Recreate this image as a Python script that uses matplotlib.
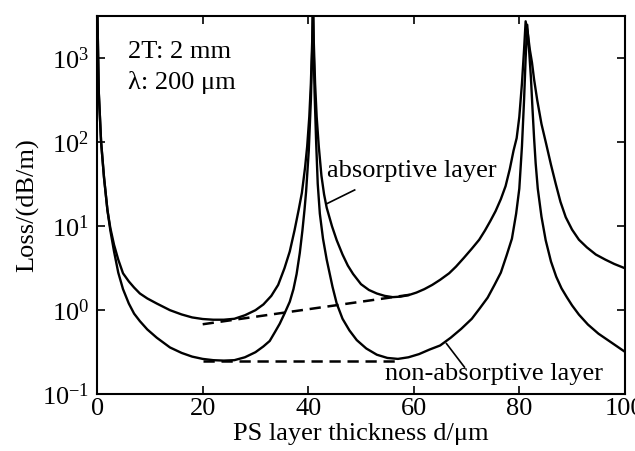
import matplotlib
matplotlib.use("Agg")
import matplotlib.pyplot as plt

plt.rcParams["font.family"] = ["Liberation Serif", "DejaVu Serif"]
plt.rcParams["mathtext.fontset"] = "custom"
plt.rcParams["mathtext.rm"] = "Liberation Serif"
plt.rcParams["axes.unicode_minus"] = False
plt.rcParams["font.size"] = 19

# absorptive layer (upper curve)
abs_x = [0, 0.3, 0.75, 1.3, 1.95, 2.5, 3.2, 4.0, 4.9, 6.0, 7.0, 8.1, 9.5, 11.3,
         13.8, 16, 18, 20, 22, 24, 26, 28, 30, 31.5, 33, 34.3, 35.5, 36.5, 37.4,
         38.2, 38.8, 39.4, 39.8, 40.2, 40.5, 40.75, 40.9,
         41.05, 41.3, 41.6, 42.0, 42.5, 43.0, 43.5, 44.5, 45.4, 46.5, 47.5, 48.5,
         50, 51.5, 53, 54.5, 56, 57.5, 59, 60.5, 62, 63.5, 65, 66.7, 68, 69.5,
         71, 72.4, 73.5, 74.5, 75.5, 76.5, 77.4, 78.2, 78.9, 79.5, 80.0, 80.5,
         80.9, 81.2, 81.6, 82.0, 82.4, 82.8, 83.4, 84.2, 85.1, 86.0, 86.9, 87.8,
         88.8, 90, 91.3, 92.8, 94.5, 96.3, 98, 100]
abs_y = [5000, 400, 100, 38, 15.5, 9.5, 6.0, 4.0, 2.75, 2.2, 1.86, 1.58, 1.38, 1.2,
         1.0, 0.89, 0.82, 0.785, 0.77, 0.77, 0.79, 0.87, 1.0, 1.17, 1.48, 2.0, 3.16, 5.0, 8.9,
         15.8, 25, 50, 89, 200, 500, 1580, 5000,
         1580, 500, 200, 89, 40, 24, 16.6, 10, 6.8, 4.6, 3.4, 2.7,
         2.04, 1.74, 1.58, 1.48, 1.43, 1.45, 1.51, 1.62, 1.78, 2.0, 2.3, 2.75, 3.3, 4.2,
         5.4, 6.9, 8.9, 11.5, 15.1, 21, 30, 48, 79, 112, 200, 500,
         1260, 2750, 2000, 1260, 890, 560, 316, 165, 95, 54, 32, 19.5,
         12.8, 9.1, 6.9, 5.6, 4.6, 4.0, 3.55, 3.16]

# non-absorptive layer (lower curve)
non_x = [0, 0.3, 0.75, 1.3, 1.95, 2.5, 3.2, 4.0, 4.9, 6.0, 7.0, 8.1, 9.5, 11.3,
         13.8, 16, 18, 20, 22, 24, 26, 28, 30, 31.5, 32.7, 33.7, 34.6, 35.5, 36.5,
         37.2, 37.8, 38.4, 38.9, 39.3, 39.6, 40.1, 40.5, 40.8, 40.9,
         41.0, 41.2, 41.5, 41.8, 42.2, 42.8, 43.5, 44.6, 45.4, 46.5, 47.8, 49.2,
         51, 53, 55, 57, 59, 61, 63, 65, 67, 69, 71, 72.5, 74, 75.3, 76.5, 77.6,
         78.6, 79.4, 80.0, 80.5, 80.9, 81.2, 81.5, 81.85, 82.2, 82.5, 82.8, 83.1,
         83.5, 84.2, 85, 86, 87, 88, 89, 90, 91.3, 93, 95, 97.5, 100]
non_y = [5000, 400, 100, 38, 15.5, 8.9, 5.0, 2.8, 1.78, 1.2, 0.91, 0.74, 0.59, 0.47,
         0.36, 0.31, 0.28, 0.263, 0.254, 0.251, 0.254, 0.275, 0.316, 0.37, 0.43, 0.55, 0.69, 0.91, 1.26,
         1.78, 2.7, 4.8, 8.9, 15.8, 26, 79, 316, 1580, 5000,
         1580, 400, 100, 32, 14.1, 7.1, 4.0, 1.9, 1.2, 0.79, 0.575, 0.44,
         0.35, 0.295, 0.27, 0.263, 0.275, 0.30, 0.34, 0.38, 0.47, 0.60, 0.79, 1.05, 1.41, 2.0, 2.8, 4.5,
         7.1, 14.1, 28, 89, 316, 1000, 2500, 1260, 590, 250, 112, 56,
         28, 13, 6.8, 3.8, 2.5, 1.82, 1.43, 1.14, 0.885, 0.675, 0.525, 0.41, 0.32]

# dashed guide lines through the minima
guide_abs_x = [20, 60]
guide_abs_y = [0.68, 1.55]
guide_non_x = [20, 56.5]
guide_non_y = [0.245, 0.245]

x_ticks = [0, 20, 40, 60, 80, 100]
y_ticks = [0.1, 1, 10, 100, 1000]

fig = plt.figure(figsize=(6.35, 4.51), dpi=100)
ax = fig.add_axes([0.153, 0.126, 0.831, 0.839])

ax.plot(abs_x, abs_y, color="black", lw=1.7)
ax.plot(non_x, non_y, color="black", lw=1.7)
ax.plot(guide_abs_x, guide_abs_y, color="black", lw=1.8, ls=(0, (4.5, 2.7)))
ax.plot(guide_non_x, guide_non_y, color="black", lw=1.8, ls=(0, (4.5, 2.7)))

ax.set_yscale("log")
ax.set_xlim(0, 100)
ax.set_ylim(0.1, 3200)
ax.set_xticks(x_ticks)
ax.set_yticks(y_ticks)
ax.minorticks_off()
ax.tick_params(direction="in", top=True, right=True, length=6, width=1.2)
ax.tick_params(axis="x", pad=3)
ax.tick_params(axis="y", pad=6)
for s in ax.spines.values():
    s.set_linewidth(1.5)

ax.set_xlabel("PS layer thickness d/μm", labelpad=2)
ax.set_ylabel("Loss/(dB/m)", labelpad=2)

ax.text(5.9, 1180, "2T: 2 mm", va="center", ha="left")
ax.text(5.9, 515, "λ: 200 μm", va="center", ha="left")

ax.text(43.6, 46, "absorptive layer", va="center", ha="left")
ax.plot([43.5, 48.8], [18.5, 27], color="black", lw=1.2)
ax.text(54.6, 0.173, "non-absorptive layer", va="center", ha="left")
ax.plot([66.2, 69.6], [0.40, 0.21], color="black", lw=1.2)

fig.savefig("out.png", dpi=100)
